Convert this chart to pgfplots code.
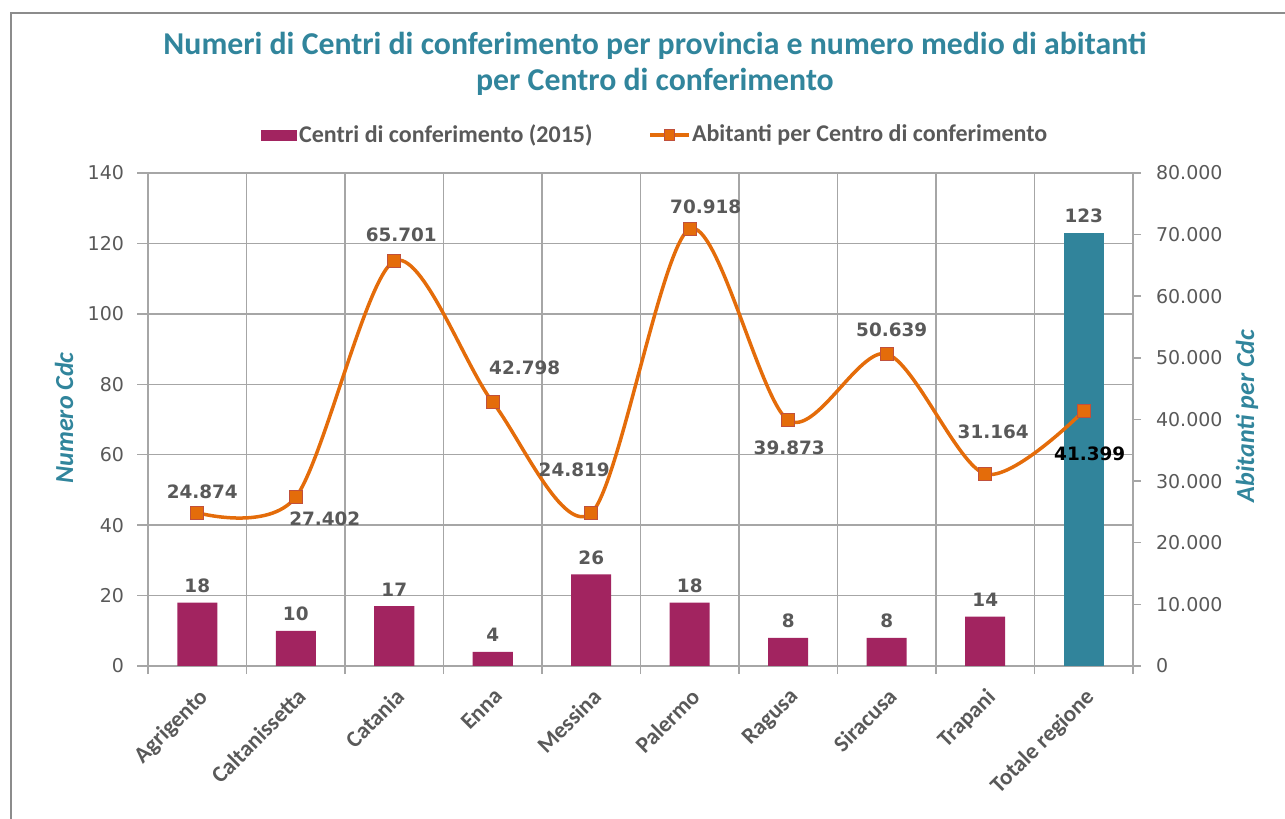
\documentclass[border=0pt]{standalone}
\usepackage{fontspec}
\setmainfont{Carlito}
\newfontfamily\dejavu{DejaVu Sans}
\usepackage{pgfplots}
\pgfplotsset{compat=1.18}
\definecolor{titleteal}{RGB}{49,133,156}
\definecolor{barpurple}{RGB}{162,36,96}
\definecolor{barteal}{RGB}{49,132,155}
\definecolor{lineorange}{RGB}{228,108,10}
\definecolor{markedge}{RGB}{192,80,60}
\definecolor{txtgray}{RGB}{89,89,89}
\definecolor{gridgray}{RGB}{166,166,166}
\definecolor{framegray}{RGB}{140,140,140}
\begin{document}
\begin{tikzpicture}
\useasboundingbox (0,0) rectangle (642.5pt,409.5pt);
\draw[framegray, line width=0.75pt] (5.5pt,0pt) -- (5.5pt,403pt) -- (642.5pt,403pt);
% primary axis: bars
\begin{axis}[
  at={(74pt,76.5pt)}, anchor=south west,
  scale only axis, width=492.5pt, height=246.5pt,
  xmin=-0.5, xmax=9.5, ymin=0, ymax=140,
  ytick={0,20,...,140},
  xtick={0,...,9},
  xticklabels={Agrigento,Caltanissetta,Catania,Enna,Messina,Palermo,Ragusa,Siracusa,Trapani,Totale regione},
  minor xtick={-0.5,0.5,...,9.5},
  xtick pos=bottom, ytick pos=left,
  tick align=outside,
  major tick length=5.5pt, minor tick length=4pt,
  every major x tick/.append style={draw=none},
  ymajorgrids, xminorgrids,
  grid style={gridgray, line width=0.75pt},
  minor grid style={gridgray, line width=0.75pt},
  axis line style={gridgray, line width=0.75pt},
  tick style={gridgray, line width=0.75pt},
  /pgf/number format/assume math mode=true,
  yticklabel style={font=\dejavu\fontsize{9.5}{11}\selectfont, text=txtgray, xshift=-3pt},
  xticklabel style={font=\bfseries\fontsize{11.5}{13}\selectfont, text=txtgray, rotate=45, anchor=north east},
  ylabel={Numero Cdc},
  every axis y label/.style={at={(axis description cs:-0.0853,0.503)}, rotate=90, anchor=center, font=\bfseries\itshape\fontsize{13}{15}\selectfont, text=titleteal},
  nodes near coords,
  every node near coord/.append style={font=\dejavu\bfseries\fontsize{9.2}{10}\selectfont, text=txtgray, yshift=1.5pt},
]
\addplot[ybar, bar width=20pt, bar shift=0pt, fill=barpurple, draw=none] coordinates {
(0,18) (1,10) (2,17) (3,4) (4,26) (5,18) (6,8) (7,8) (8,14)};
\addplot[ybar, bar width=20pt, bar shift=0pt, fill=barteal, draw=none] coordinates {(9,123)};
\end{axis}
% secondary axis: line
\begin{axis}[
  at={(74pt,76.5pt)}, anchor=south west,
  scale only axis, width=492.5pt, height=246.5pt,
  xmin=-0.5, xmax=9.5, ymin=0, ymax=80000,
  ytick={0,10000,...,80000},
  axis y line*=right, axis x line=none,
  tick align=outside, major tick length=4pt,
  axis line style={gridgray, line width=0.75pt},
  tick style={gridgray, line width=0.75pt},
  scaled y ticks=false,
  /pgf/number format/.cd, fixed, 1000 sep={.}, assume math mode=true, /pgfplots/.cd,
  yticklabel style={font=\dejavu\fontsize{9.5}{11}\selectfont, text=txtgray, xshift=4pt},
  ylabel={Abitanti per Cdc},
  every axis y label/.style={at={(axis description cs:1.1157,0.507)}, rotate=90, anchor=center, font=\bfseries\itshape\fontsize{13}{15}\selectfont, text=titleteal},
  legend columns=2,
  legend style={at={(axis description cs:0.515,1.077)}, anchor=center, draw=none, fill=none,
    font=\bfseries\fontsize{12}{14}\selectfont, text=txtgray,
    nodes={inner sep=1pt},
    /tikz/every even column/.append style={column sep=27pt}},
  legend cell align=left,
]
\addlegendimage{area legend, fill=barpurple, draw=none, legend image code/.code={\fill[barpurple] (0pt,-2.75pt) rectangle (18pt,2.75pt);}}
\addlegendentry{Centri di conferimento (2015)}
\addplot[smooth, color=lineorange, line width=1.75pt, mark=square*, mark size=3.2pt,
  mark options={fill=lineorange, draw=markedge, line width=0.5pt},
  legend image code/.code={\draw[mark repeat=2, mark phase=2, mark size=2.6pt] plot coordinates {(0pt,0pt) (9.5pt,0pt) (19pt,0pt)};}] coordinates {
(0,24874) (1,27402) (2,65701) (3,42798) (4,24819) (5,70918) (6,39873) (7,50639) (8,31164) (9,41399)};
\addlegendentry{Abitanti per Centro di conferimento}
\tikzset{dl/.style={font=\dejavu\bfseries\fontsize{9.2}{10}\selectfont, text=txtgray}}
\node[dl, xshift=2.5pt, yshift=10.5pt] at (axis cs:0,24874) {24.874};
\node[dl, xshift=14.5pt, yshift=-11pt] at (axis cs:1,27402) {27.402};
\node[dl, xshift=3.5pt, yshift=13pt] at (axis cs:2,65701) {65.701};
\node[dl, xshift=16pt, yshift=17pt] at (axis cs:3,42798) {42.798};
\node[dl, xshift=-8.5pt, yshift=21.5pt] at (axis cs:4,24819) {24.819};
\node[dl, xshift=8pt, yshift=11pt] at (axis cs:5,70918) {70.918};
\node[dl, xshift=0.5pt, yshift=-14pt] at (axis cs:6,39873) {39.873};
\node[dl, xshift=2.5pt, yshift=12pt] at (axis cs:7,50639) {50.639};
\node[dl, xshift=4pt, yshift=21pt] at (axis cs:8,31164) {31.164};
\node[dl, text=black, xshift=3pt, yshift=-21.5pt] at (axis cs:9,41399) {41.399};
\end{axis}
\node[align=center, text=titleteal, font=\bfseries\fontsize{15.9}{18}\selectfont] at (327.5pt,377.5pt)
  {Numeri di Centri di conferimento per provincia e numero medio di abitanti\\per Centro di conferimento};
\end{tikzpicture}
\end{document}
